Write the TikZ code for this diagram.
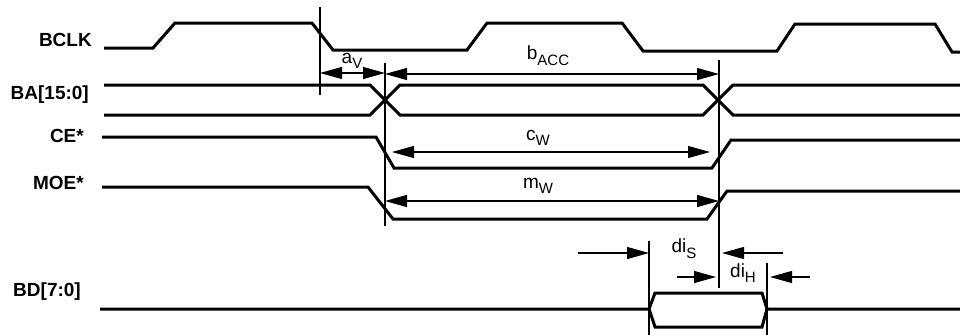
\documentclass[tikz,border=0pt]{standalone}
\usepackage{fontspec}
\setmainfont{Liberation Sans}
\usetikzlibrary{arrows.meta}
\tikzset{sigline/.style={line width=3pt, line join=miter},
	tickline/.style={line width=1.2pt},
	dimarrow/.style={line width=1.2pt},
	siglabel/.style={anchor=east, font=\fontsize{19}{21}\selectfont\bfseries, inner sep=0pt},
	timelabel/.style={font=\fontsize{19}{21}\selectfont, inner sep=0pt}}
\newcommand{\tsub}[2]{#1\raisebox{-0.3em}{\fontsize{15}{15}\selectfont #2}}

\begin{document}
\begin{tikzpicture}[x=1pt, y=-1pt, >={Triangle[length=22pt,width=12pt]}]
		\useasboundingbox (0,0) rectangle (960,335);
		
		\node [siglabel] (bclk) at (92,40) {BCLK};
		\node [siglabel] (ba) at (89,95) {BA[15:0]};
		\node [siglabel] (ce) at (84,136) {CE*};
		\node [siglabel] (moe) at (84,183) {MOE*};
		\node [siglabel] (bd) at (81,292) {BD[7:0]};
		
		% reference lines
		\coordinate (t0) at (320,7);
		\coordinate (t1) at (385,63);
		\coordinate (t2) at (719,60);
		\coordinate (t3) at (649,241);
		\coordinate (t4) at (767,263);
		\draw [tickline] (t0) -- (t0 |- 0,95);
		\draw [tickline] (t1) -- (t1 |- 0,226);
		\draw [tickline] (t2) -- (t2 |- 0,288);
		\draw [tickline] (t3) -- (t3 |- 0,335);
		\draw [tickline] (t4) -- (t4 |- 0,335);
		
		% BCLK
		\draw [sigline] (104,48) -- (153,48) -- (175,23) -- (312,23) -- (333,50) -- (467,50)
			-- (487,23) -- (622,23) -- (643,51) -- (777,51) -- (795,24) -- (935,24) -- (952,52) -- (960,52);
		% BA[15:0]
		\draw [sigline] (104,85) -- (370,85) -- (400,115) -- (703,115) -- (733,85) -- (960,85);
		\draw [sigline] (104,115) -- (370,115) -- (400,85) -- (703,85) -- (733,115) -- (960,115);
		% CE*
		\draw [sigline] (102,137) -- (376,137) -- (394,168) -- (712,168) -- (731,140) -- (960,140);
		% MOE*
		\draw [sigline] (102,187) -- (368,187) -- (393,219) -- (707,219) -- (727,191) -- (960,191);
		% BD[7:0]
		\draw [sigline] (100,309) -- (649,309) -- (655,293) -- (762,293) -- (767,309) -- (960,309);
		\draw [sigline] (649,309) -- (655,327) -- (762,327) -- (767,309);
		
		% timing
		\draw [dimarrow, <->] (t0 |- 0,73) -- (t1 |- 0,73);
		\node [timelabel] (av) at (352,61) {\tsub{a}{V}};
		\draw [dimarrow, <->] (t1 |- 0,74) -- (t2 |- 0,74);
		\node [timelabel] (bacc) at (548,56) {\tsub{b}{ACC}};
		\draw [dimarrow, <->] (392,152) -- (710,152);
		\node [timelabel] (cw) at (538,138) {\tsub{c}{W}};
		\draw [dimarrow, <->] (t1 |- 0,201) -- (t2 |- 0,201);
		\node [timelabel] (mw) at (538,186) {\tsub{m}{W}};
		
		\coordinate (dsl) at (578,253);
		\coordinate (dsr) at (783,253);
		\draw [dimarrow, ->] (dsl) -- (t3 |- dsl);
		\draw [dimarrow, ->] (dsr) -- (722,253);
		\node [timelabel] (dis) at (684,249) {\tsub{di}{S}};
		\coordinate (dhl) at (677,277);
		\coordinate (dhr) at (810,277);
		\draw [dimarrow, ->] (dhl) -- (716,277);
		\draw [dimarrow, ->] (dhr) -- (770,277);
		\node [timelabel] (dih) at (743,273) {\tsub{di}{H}};
		
\end{tikzpicture}
\end{document}
